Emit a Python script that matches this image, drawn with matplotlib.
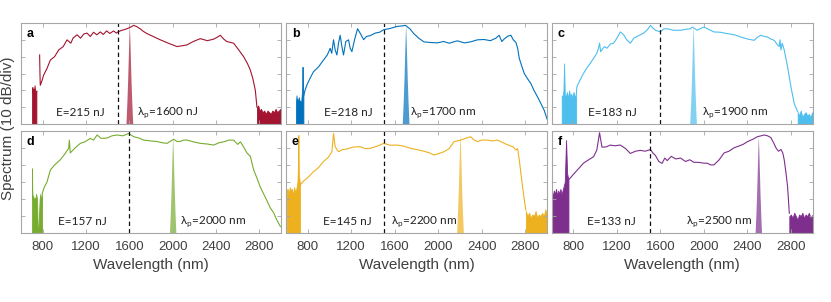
import matplotlib
matplotlib.use("Agg")
import matplotlib.pyplot as plt

plt.rcParams['font.family'] = ['Liberation Sans', 'DejaVu Sans']
plt.rcParams['mathtext.fontset'] = 'custom'
plt.rcParams['mathtext.rm'] = 'Lato'

labels = ['a', 'b', 'c', 'd', 'e', 'f']
colors = ['#A2142F', '#0072BD', '#4DBEEE', '#77AC30', '#EDB120', '#7E2F8E']
energies = ['E=215 nJ', 'E=218 nJ', 'E=183 nJ', 'E=157 nJ', 'E=145 nJ', 'E=133 nJ']
pump_texts = ['λ$_\\mathrm{p}$=1600 nJ', 'λ$_\\mathrm{p}$=1700 nm', 'λ$_\\mathrm{p}$=1900 nm',
              'λ$_\\mathrm{p}$=2000 nm', 'λ$_\\mathrm{p}$=2200 nm', 'λ$_\\mathrm{p}$=2500 nm']
pump_wl = [1600, 1700, 1900, 2000, 2200, 2500]
pump_peak = [-1.0, -1.4, -2.0, -3.5, -1.6, -3.5]
dashed_wl = [1500, 1500, 1600, 1600, 1500, 1500]
e_text_x = [926, 945, 938, 938, 938, 929]
p_text_x = [1671, 1738, 1978, 2071, 1566, 1837]

# main spectra (wavelength nm, level dB)
a_wl = [772, 775, 778, 790, 809, 840, 871, 910, 948, 990, 1025, 1060, 1080, 1117, 1150, 1180, 1209, 1240, 1270, 1300,
        1332, 1360, 1390, 1420, 1455, 1480, 1502, 1540, 1578, 1610, 1640, 1670, 1701, 1730, 1763, 1820, 1886, 1960,
        2040, 2090, 2132, 2190, 2255, 2320, 2378, 2410, 2440, 2470, 2500, 2563, 2610, 2655, 2690, 2717, 2740, 2763, 2778]
a_db = [-19, -30, -37, -35, -31, -27, -22, -20, -16, -14, -10, -12, -9, -7, -9, -6.5, -6, -8, -5.5, -7,
        -5.3, -6.8, -4.7, -6.2, -4.7, -6, -5, -4.2, -3.4, -2.5, -1.4, -2.2, -3.5, -5, -6.3, -8, -10, -12,
        -14, -13.5, -13, -11, -9.3, -10.5, -9.6, -8.5, -7.3, -9.5, -11, -12, -16, -20, -24, -28, -33, -40, -50]
b_wl = [760, 775, 791, 820, 852, 900, 945, 980, 1006, 1020, 1037, 1052, 1068, 1083, 1098, 1114, 1129, 1150, 1175,
        1190, 1206, 1230, 1258, 1290, 1314, 1340, 1375, 1420, 1460, 1498, 1560, 1622, 1660, 1698, 1740, 1775, 1820,
        1868, 1930, 1991, 2050, 2100, 2175, 2240, 2298, 2360, 2421, 2480, 2530, 2560, 2585, 2606, 2640, 2668, 2690,
        2714, 2730, 2745, 2770, 2791, 2820, 2852, 2880, 2914, 2945, 2975, 3000]
b_db = [-44, -40, -37, -33, -29, -26, -22, -19, -15, -18, -10, -16, -19, -12, -7.3, -14, -19, -11, -10,
        -15, -17, -10, -3.4, -7, -9.9, -8, -7.5, -6, -5.5, -4, -3.2, -2, -1.8, -1.4, -3.5, -6.3, -9,
        -11.2, -11.6, -11.8, -11, -12, -10.6, -11.8, -11.2, -10, -9.8, -10.5, -9, -7.3, -11, -9.5, -7.8, -7.3, -10,
        -11.5, -15, -21, -26, -30, -33, -36, -40, -44, -48, -52, -57]
c_wl = [825, 831, 860, 892, 920, 954, 985, 1015, 1030, 1040, 1050, 1062, 1085, 1108, 1140, 1169, 1200, 1231, 1262,
        1290, 1323, 1355, 1385, 1415, 1446, 1480, 1508, 1530, 1554, 1600, 1630, 1662, 1720, 1785, 1830, 1877, 1892,
        1938, 1970, 2000, 2050, 2092, 2150, 2215, 2280, 2338, 2400, 2462, 2490, 2523, 2555, 2585, 2615, 2646, 2670,
        2692, 2700, 2708, 2720, 2738, 2769, 2800, 2831, 2862]
c_db = [-44, -38, -34, -30, -27, -24, -21, -18, -15, -12, -17, -16, -14, -15, -12.5, -12, -9, -5.3, -7,
        -10, -12, -9, -8, -7, -6, -4, -1.4, -3, -4.3, -5.3, -3.5, -3.4, -4.3, -4.3, -3.8, -3.4, -2.4,
        -4.3, -3.2, -2.4, -4, -5.3, -5.5, -6.3, -7, -8.3, -9.5, -10.3, -8.5, -7.3, -8, -8.3, -9.5, -10.3, -12.5,
        -14, -10, -16, -12, -16, -26, -38, -48, -52.7]
d_wl = [794, 815, 840, 871, 910, 963, 1000, 1040, 1046, 1055, 1100, 1148, 1190, 1240, 1270, 1302, 1340, 1394, 1440,
        1486, 1540, 1594, 1640, 1690, 1732, 1800, 1855, 1900, 1948, 2009, 2040, 2071, 2100, 2132, 2190, 2255, 2320,
        2378, 2430, 2471, 2520, 2563, 2600, 2625, 2650, 2686, 2717, 2748, 2780, 2809, 2840, 2871, 2900, 2932, 2960, 2994]
d_db = [-37, -33, -30, -23, -20, -17, -14, -10.3, -5.5, -13, -10, -7.4, -6.5, -4.5, -5.5, -2.5, -4.5, -4.3, -3,
        -2.5, -3, -1.6, -3.5, -4.3, -5.5, -6, -6.3, -7, -7.4, -5, -6.3, -6.3, -5.5, -5.5, -6.5, -7.4, -7.8,
        -8.4, -7, -6.5, -5.5, -5.5, -8, -6.5, -9, -13, -15, -23, -28, -33, -37, -41, -45, -48, -52, -56]
e_wl = [729, 760, 800, 852, 900, 945, 990, 1022, 1037, 1052, 1083, 1120, 1160, 1220, 1283, 1330, 1375, 1440, 1498,
        1560, 1622, 1680, 1745, 1800, 1868, 1920, 1960, 2000, 2052, 2100, 2145, 2206, 2250, 2298, 2330, 2360, 2400,
        2452, 2500, 2545, 2580, 2606, 2650, 2690, 2714, 2730, 2745, 2760, 2775, 2790, 2806]
e_db = [-31.8, -29.5, -27.5, -24, -21.5, -18, -15.5, -12.3, -1.6, -9.4, -12.3, -11, -10.7, -9.5, -9.4, -10.5, -10.3, -9, -7.4,
        -8.5, -8.4, -9, -10.3, -11, -12, -13, -14.2, -13.5, -12.3, -10.5, -6.4, -5.5, -4.5, -3.5, -5.5, -6.4, -5.5,
        -5.5, -6, -5.5, -6.5, -7.4, -8.5, -9.5, -11.3, -10.5, -17, -25, -32.7, -40, -46.4]
f_wl = [754, 780, 800, 850, 892, 940, 985, 1015, 1040, 1062, 1100, 1138, 1180, 1231, 1280, 1323, 1370, 1415, 1460,
        1508, 1530, 1554, 1585, 1615, 1640, 1662, 1700, 1740, 1785, 1830, 1870, 1908, 1950, 2000, 2031, 2060, 2092,
        2140, 2185, 2230, 2277, 2320, 2360, 2400, 2450, 2492, 2525, 2554, 2585, 2615, 2640, 2662, 2685, 2708, 2725,
        2738, 2755, 2769, 2785]
f_db = [-28.8, -27, -25.5, -22, -19, -17, -15.2, -11.3, -1.2, -9.6, -9.5, -8.4, -8.8, -8.4, -10.5, -13.3, -12, -11.5, -12,
        -11, -13, -14.5, -18, -19.1, -16, -17.5, -15, -16.5, -16, -18, -17, -18.5, -18.5, -19, -19, -20, -20,
        -17, -13, -12, -10, -9, -8, -6.4, -5, -3.5, -3, -2.5, -3, -4, -7, -10, -12, -11, -13,
        -17, -25, -32.7, -48.3]

# noise-floor / edge regions (filled to the bottom of the axis)
a_floor_l_wl = [702, 705, 710, 715, 720, 725, 730, 735, 742]
a_floor_l_db = [-41, -38, -42, -39, -41, -37, -40, -42, -40]
a_floor_r_wl = [2778, 2790, 2800, 2815, 2830, 2845, 2860, 2875, 2890, 2905, 2920, 2935, 2950, 2965, 2980, 2995, 3000]
a_floor_r_db = [-50, -49, -52, -51, -53, -52, -54, -52, -53, -54, -52, -53, -51, -53, -52, -51, -52]
b_floor_l_wl = [692, 697, 702, 707, 712, 718, 724, 730, 736, 742, 748, 752, 755, 760]
b_floor_l_db = [-47, -43, -49, -45, -50, -44, -48, -46, -50, -45, -40, -26, -35, -44]
c_floor_l_wl = [692, 700, 708, 714, 720, 730, 740, 750, 760, 770, 780, 790, 800, 810, 825]
c_floor_l_db = [-43, -44, -40, -24, -42, -44, -41, -45, -40, -44, -42, -45, -41, -43, -44]
c_floor_r_wl = [2862, 2875, 2890, 2905, 2920, 2935, 2950, 2965, 2980, 2995, 3000]
c_floor_r_db = [-53, -55, -52, -56, -54, -53, -55, -54, -56, -53, -55]
d_floor_l_wl = [702, 704, 707, 712, 718, 725, 732, 740, 748, 755, 760, 772, 778, 785, 794]
d_floor_l_db = [-22, -35, -40, -38, -42, -39, -41, -37, -40, -60, -60, -40, -37, -41, -37]
e_floor_l_wl = [606, 615, 625, 635, 645, 655, 665, 675, 685, 695, 705, 710, 714, 718, 729]
e_floor_l_db = [-35, -34, -37, -33, -35, -34, -38, -33, -36, -34, -30, -20, -2.5, -25, -31.8]
e_floor_r_wl = [2806, 2820, 2835, 2850, 2865, 2880, 2895, 2910, 2925, 2940, 2955, 2970, 2985, 3000]
e_floor_r_db = [-47, -50, -48, -51, -49, -50, -47, -51, -49, -50, -48, -50, -46, -49]
f_floor_l_wl = [600, 610, 620, 630, 640, 650, 660, 670, 680, 690, 700, 708, 720, 732, 742, 754]
f_floor_l_db = [-36, -38, -35, -37, -34, -38, -35, -37, -34, -37, -35, -33, -30, -5.5, -25, -28.8]
f_floor_r_wl = [2785, 2800, 2815, 2830, 2845, 2860, 2875, 2890, 2905, 2920, 2935, 2950, 2965, 2980, 2995, 3000]
f_floor_r_db = [-50, -49, -51, -48, -50, -52, -49, -50, -48, -51, -49, -50, -48, -51, -50, -49]

# pump spike shape (offset from pump wavelength nm, level relative to peak dB)
pump_off = [-32, -22, -15, -9, -5, -2, 0, 2, 5, 9, 15, 22, 32]
pump_rel = [-60, -45, -32, -18, -9, -3, 0, -3, -9, -18, -32, -45, -60]

spectra = [
    (a_wl, a_db, [(a_floor_l_wl, a_floor_l_db), (a_floor_r_wl, a_floor_r_db)]),
    (b_wl, b_db, [(b_floor_l_wl, b_floor_l_db)]),
    (c_wl, c_db, [(c_floor_l_wl, c_floor_l_db), (c_floor_r_wl, c_floor_r_db)]),
    (d_wl, d_db, [(d_floor_l_wl, d_floor_l_db)]),
    (e_wl, e_db, [(e_floor_l_wl, e_floor_l_db), (e_floor_r_wl, e_floor_r_db)]),
    (f_wl, f_db, [(f_floor_l_wl, f_floor_l_db), (f_floor_r_wl, f_floor_r_db)]),
]

xticks = [800, 1200, 1600, 2000, 2400, 2800]
yticks = [-60, -50, -40, -30, -20, -10, 0]

W, H = 831, 302
fig = plt.figure(figsize=(W / 100, H / 100), dpi=100)
lefts = [21, 286, 551.7]
widths = [260, 261, 261]
tops = [23, 130.7]
heights = [101, 102.6]

edge = '#A6A6A6'
txtc = '#404040'

for i in range(6):
    r, c = divmod(i, 3)
    ax = fig.add_axes([lefts[c] / W, 1 - (tops[r] + heights[r]) / H, widths[c] / W, heights[r] / H])
    col = colors[i]
    wl, db, floors = spectra[i]
    for fw, fd in floors:
        ax.fill_between(fw, fd, -60, color=col, lw=0.6, edgecolor=col)
    ax.plot(wl, db, color=col, lw=0.8)
    pw = [pump_wl[i] + o for o in pump_off]
    pd = [pump_peak[i] + v for v in pump_rel]
    ax.fill_between(pw, pd, -60, color=col, alpha=0.7, lw=0)
    ax.axvline(dashed_wl[i], color='#111111', ls=(0, (3.5, 2.5)), lw=0.9)
    ax.set_xlim(600, 3000)
    ax.set_ylim(-60, 0)
    ax.set_xticks(xticks)
    ax.set_yticks(yticks)
    ax.tick_params(direction='in', length=3, width=0.6, colors=edge, top=True, right=True,
                   labelcolor=txtc, labelsize=9.5, labelleft=False, pad=5.5)
    if r == 0:
        ax.tick_params(labelbottom=False)
    else:
        ax.set_xlabel('Wavelength (nm)', fontsize=11, color=txtc, labelpad=4)
    for s in ax.spines.values():
        s.set_color(edge)
        s.set_linewidth(0.8)
    ax.text(0.022, 0.86, labels[i], transform=ax.transAxes, fontsize=9, fontweight='bold', color='black')
    ax.text(e_text_x[i], -53, energies[i], fontsize=8.5, color='#222222', va='center', ha='left',
            family=['Lato', 'DejaVu Sans'])
    ax.text(p_text_x[i], -53, pump_texts[i], fontsize=8.5, color='#222222', va='center', ha='left',
            family=['Lato', 'DejaVu Sans'])

fig.text(8 / W, 1 - 128 / H, 'Spectrum (10 dB/div)', rotation=90, ha='center', va='center',
         fontsize=11, color=txtc)

fig.savefig('out.png', dpi=100)
